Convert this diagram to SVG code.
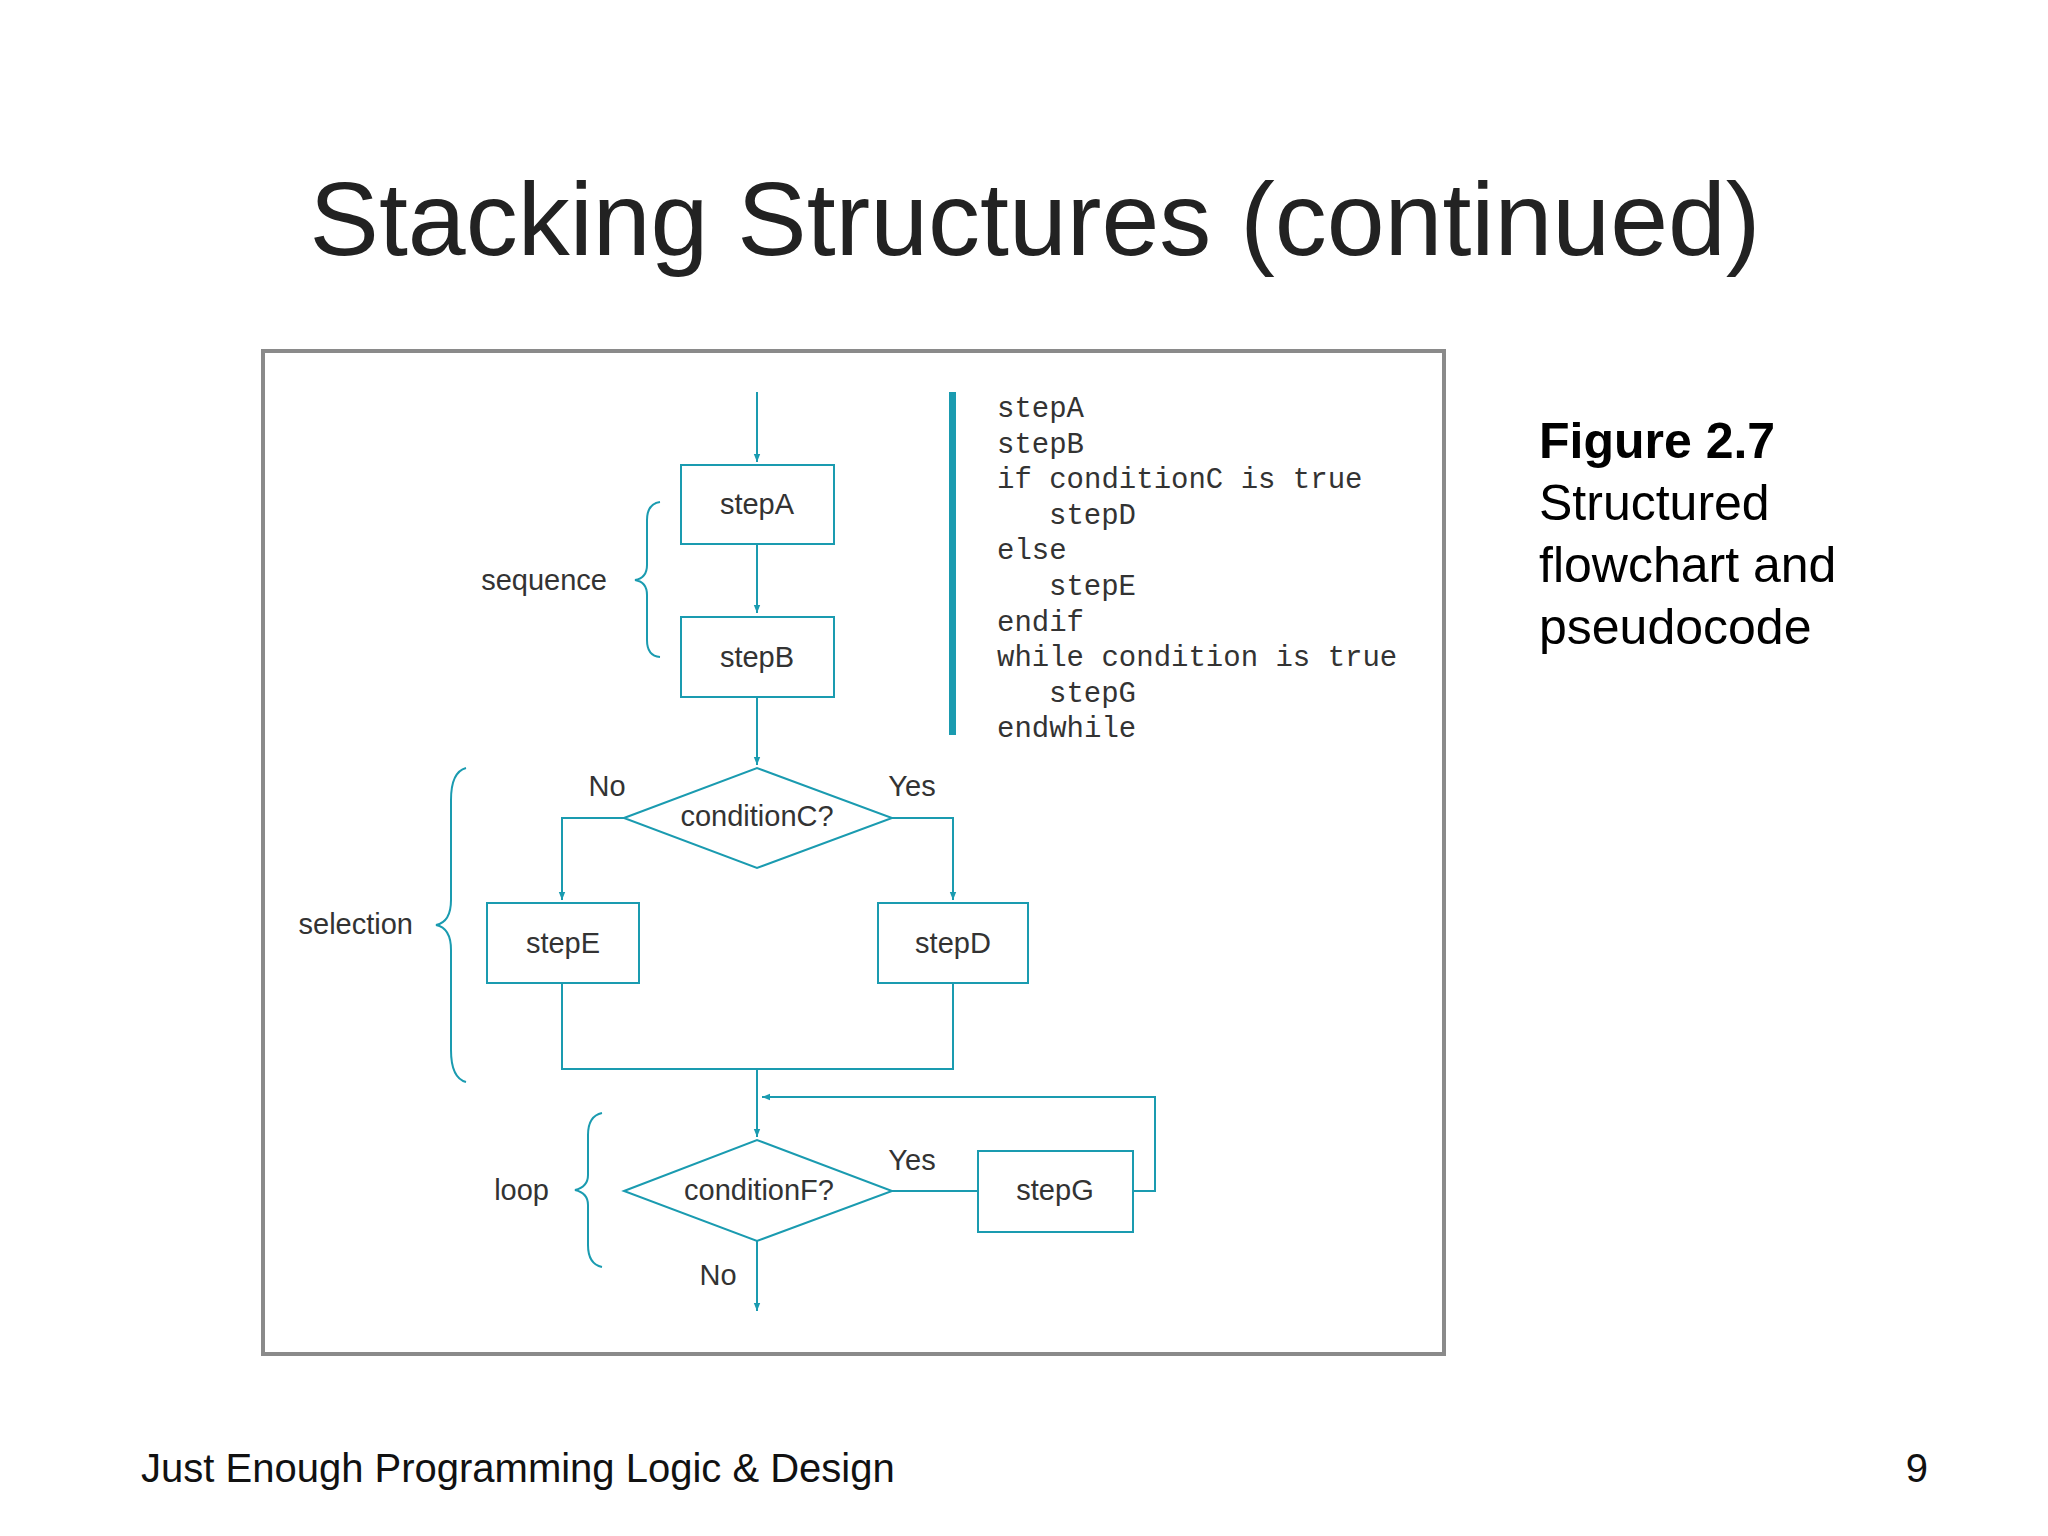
<svg xmlns="http://www.w3.org/2000/svg" width="2048" height="1536" viewBox="0 0 2048 1536">
<defs>
<style>
.box{fill:#fff;stroke:#1a9bb0;stroke-width:2}
.ln{fill:none;stroke:#1a9bb0;stroke-width:2}
.nt{font-family:"Liberation Sans",Arial,sans-serif;font-size:29px;fill:#333;text-anchor:middle}
.lb{font-family:"Liberation Sans",Arial,sans-serif;font-size:29px;fill:#333}
.code{font-family:"Liberation Mono","DejaVu Sans Mono",monospace;font-size:29px;fill:#333}
.side{font-family:"Liberation Sans",Arial,sans-serif;font-size:50px;fill:#000}
</style>
<marker id="ah" viewBox="0 0 10 10" refX="10" refY="5" markerWidth="8" markerHeight="8" orient="auto" markerUnits="userSpaceOnUse"><path d="M0,1 L10,5 L0,9 z" fill="#1a9bb0"/></marker>
</defs>
<rect width="2048" height="1536" fill="#fff"/>
<text x="1035" y="255" font-family="Liberation Sans,Arial,sans-serif" font-size="104" fill="#222" text-anchor="middle">Stacking Structures (continued)</text>
<rect x="263" y="351" width="1181" height="1003" fill="#fff" stroke="#8a8a8a" stroke-width="4"/>
<g id="connectors">
<path class="ln" d="M757,392 V462" marker-end="url(#ah)"/>
<path class="ln" d="M757,544 V613" marker-end="url(#ah)"/>
<path class="ln" d="M757,697 V765" marker-end="url(#ah)"/>
<path class="ln" d="M624,818 H562 V900" marker-end="url(#ah)"/>
<path class="ln" d="M892,818 H953 V900" marker-end="url(#ah)"/>
<path class="ln" d="M562,983 V1069 H953 V983"/>
<path class="ln" d="M757,1069 V1137" marker-end="url(#ah)"/>
<path class="ln" d="M1133,1191 H1155 V1097 H762" marker-end="url(#ah)"/>
<path class="ln" d="M892,1191 H978"/>
<path class="ln" d="M757,1241 V1311" marker-end="url(#ah)"/>
</g>
<g id="stepA"><rect class="box" x="681" y="465" width="153" height="79"/><text class="nt" x="757" y="514">stepA</text></g>
<g id="stepB"><rect class="box" x="681" y="617" width="153" height="80"/><text class="nt" x="757" y="667">stepB</text></g>
<g id="condC"><polygon class="box" points="624,818 757,768 892,818 757,868"/><text class="nt" x="757" y="826">conditionC?</text></g>
<g id="stepE"><rect class="box" x="487" y="903" width="152" height="80"/><text class="nt" x="563" y="953">stepE</text></g>
<g id="stepD"><rect class="box" x="878" y="903" width="150" height="80"/><text class="nt" x="953" y="953">stepD</text></g>
<g id="condF"><polygon class="box" points="624,1191 757,1140 892,1191 757,1241"/><text class="nt" x="759" y="1200">conditionF?</text></g>
<g id="stepG"><rect class="box" x="978" y="1151" width="155" height="81"/><text class="nt" x="1055" y="1200">stepG</text></g>
<g id="labels">
<text class="nt" x="607" y="796">No</text>
<text class="nt" x="912" y="796">Yes</text>
<text class="nt" x="912" y="1170">Yes</text>
<text class="nt" x="718" y="1285">No</text>
<text class="lb" x="607" y="590" text-anchor="end">sequence</text>
<text class="lb" x="413" y="934" text-anchor="end">selection</text>
<text class="lb" x="549" y="1200" text-anchor="end">loop</text>
</g>
<g id="braces" class="ln">
<path d="M660,502 Q647,504 647,520 V565 Q647,578 635,580 Q647,582 647,595 V640 Q647,656 660,657"/>
<path d="M466,768 Q451,772 451,800 V900 Q451,922 436,925 Q451,928 451,950 V1050 Q451,1078 466,1082"/>
<path d="M602,1113 Q588,1116 588,1135 V1175 Q588,1187 575,1190 Q588,1193 588,1205 V1245 Q588,1264 602,1267"/>
</g>
<rect x="949" y="392" width="7" height="343" fill="#1a9bb0"/>
<g id="pseudocode" class="code">
<text x="997" y="417">stepA</text>
<text x="997" y="453">stepB</text>
<text x="997" y="488">if conditionC is true</text>
<text x="1049" y="524">stepD</text>
<text x="997" y="559">else</text>
<text x="1049" y="595">stepE</text>
<text x="997" y="631">endif</text>
<text x="997" y="666">while condition is true</text>
<text x="1049" y="702">stepG</text>
<text x="997" y="737">endwhile</text>
</g>
<g id="caption" class="side">
<text x="1539" y="458" font-weight="bold">Figure 2.7</text>
<text x="1539" y="520">Structured</text>
<text x="1539" y="582">flowchart and</text>
<text x="1539" y="644">pseudocode</text>
</g>
<text x="141" y="1482" font-family="Liberation Sans,Arial,sans-serif" font-size="40" fill="#111">Just Enough Programming Logic &amp; Design</text>
<text x="1928" y="1482" font-family="Liberation Sans,Arial,sans-serif" font-size="40" fill="#111" text-anchor="end">9</text>
</svg>
